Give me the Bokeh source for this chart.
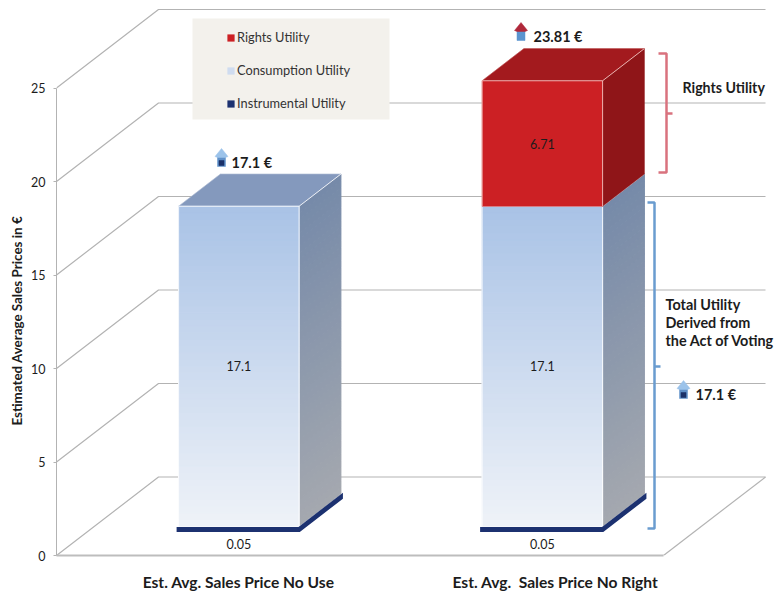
from bokeh.embed import file_html
from bokeh.resources import INLINE
from bokeh.plotting import figure
from bokeh.models import (BoxAnnotation, FixedTicker, Legend, LegendItem, Range1d, Title)
from bokeh.core.properties import value

# Chart values
categories = ["Est. Avg. Sales Price No Use", "Est. Avg.\u00a0 Sales Price No Right"]
category_tick_slots = [0.6, 1.644]
instrumental = [0.05, 0.05]
consumption = [17.1, 17.1]
rights = [0.0, 6.71]
price_labels = ["17.1 €", "23.81 €"]
y_ticks = [0, 5, 10, 15, 20, 25]
legend_names = ["Rights Utility", "Consumption Utility", "Instrumental Utility"]
y_title = "Estimated Average Sales Prices in €"

# Pixel scales of the plot area
W, H = 774, 594
LEFT, BOTTOM = 56, 39
PX_PER_SLOT, PX_PER_EURO = 303.5, 18.7
FRAME_BOTTOM = H - BOTTOM

# Oblique projection of the 3D box: depth 0 is the front edge, depth 1 the back wall
DEPTH_X = 102 / PX_PER_SLOT
DEPTH_Y = 78.5 / PX_PER_EURO
BAR_WIDTH = 120.5 / PX_PER_SLOT
BAR_NEAR, BAR_FAR = 0.30, 0.71
BAND_HALF = 2.5 / PX_PER_EURO     # half stroke of the thin navy band

FONT = value("Lato")
TEXT_DARK = "#1c1c1c"
GRID = "#b3b3b3"


def px(x):
    return (x - LEFT) / PX_PER_SLOT


def py(y):
    return (FRAME_BOTTOM - y) / PX_PER_EURO


def proj(x, y, d):
    return x + d * DEPTH_X, y + d * DEPTH_Y


def hex_rgb(c):
    return tuple(int(c[i:i + 2], 16) for i in (1, 3, 5))


def blend(a, b, t):
    ra, rb = hex_rgb(a), hex_rgb(b)
    return "#%02x%02x%02x" % tuple(round(u + (v - u) * t) for u, v in zip(ra, rb))


p = figure(width=W, height=H, output_backend="svg", toolbar_location=None,
           x_range=Range1d(0, (W - LEFT) / PX_PER_SLOT),
           y_range=Range1d(0, FRAME_BOTTOM / PX_PER_EURO),
           min_border_left=LEFT, min_border_bottom=BOTTOM,
           min_border_top=0, min_border_right=0,
           outline_line_color=None, background_fill_color="white")
p.xgrid.visible = False
p.ygrid.visible = False

# Axes
yax = p.yaxis[0]
yax.ticker = FixedTicker(ticks=y_ticks)
yax.bounds = (0, 25)
yax.axis_line_color = GRID
yax.major_tick_line_color = GRID
yax.minor_tick_line_color = None
yax.major_tick_out = 3
yax.major_tick_in = 0
yax.major_label_standoff = 8
yax.major_label_text_font = "Lato"
yax.major_label_text_font_size = "12.5px"
yax.major_label_text_color = TEXT_DARK

# The title sits along the 0-25 stretch of the axis rather than the whole frame
p.add_layout(Title(text=y_title, align="left", offset=130, standoff=8,
                   text_font="Lato", text_font_size="13.4px", text_font_style="bold",
                   text_color=TEXT_DARK), "left")

xax = p.xaxis[0]
xax.ticker = FixedTicker(ticks=category_tick_slots)
xax.major_label_overrides = dict(zip(category_tick_slots, categories))
xax.bounds = (0, 2)
xax.axis_line_color = "#bdbdbd"
xax.axis_line_width = 2
xax.major_tick_line_color = None
xax.minor_tick_line_color = None
xax.major_tick_out = 0
xax.major_tick_in = 0
xax.major_label_standoff = 17
xax.major_label_text_font = "Lato"
xax.major_label_text_font_size = "15.6px"
xax.major_label_text_font_style = "bold"
xax.major_label_text_color = TEXT_DARK

# Back wall and floor lines
for t in y_ticks:
    x0, y0 = proj(0, t, 0)
    x1, y1 = proj(0, t, 1)
    x2, y2 = proj(2, t, 1)
    p.line([x0, x1, x2], [y0, y1, y2], line_color=GRID, line_width=1.2)
xf = proj(2, 0, 0)
xb = proj(2, 0, 1)
p.line([xf[0], xb[0]], [xf[1], xb[1]], line_color=GRID, line_width=1.2)


def poly(points, fill, line=None, width=1.0):
    p.patch([q[0] for q in points], [q[1] for q in points], fill_color=fill,
            line_color=line if line else fill, line_width=width, line_join="miter")


def gradient_face(lo_l, lo_r, hi_l, hi_r, top_col, bot_col, steps=48):
    """Fill a four-cornered face with horizontal colour bands, top to bottom."""
    if top_col == bot_col:
        poly([lo_l, lo_r, hi_r, hi_l], top_col, width=0.5)
        return
    xs, ys, cols = [], [], []
    for i in range(steps):
        t0, t1 = i / steps, (i + 1) / steps
        a_l = (lo_l[0] + (hi_l[0] - lo_l[0]) * t0, lo_l[1] + (hi_l[1] - lo_l[1]) * t0)
        a_r = (lo_r[0] + (hi_r[0] - lo_r[0]) * t0, lo_r[1] + (hi_r[1] - lo_r[1]) * t0)
        b_l = (lo_l[0] + (hi_l[0] - lo_l[0]) * t1, lo_l[1] + (hi_l[1] - lo_l[1]) * t1)
        b_r = (lo_r[0] + (hi_r[0] - lo_r[0]) * t1, lo_r[1] + (hi_r[1] - lo_r[1]) * t1)
        xs.append([a_l[0], a_r[0], b_r[0], b_l[0]])
        ys.append([a_l[1], a_r[1], b_r[1], b_l[1]])
        cols.append(blend(bot_col, top_col, (t0 + t1) / 2))
    p.patches(xs, ys, fill_color=cols, line_color=cols, line_width=1)


def segment(cx, y0, y1, front_cols, side_cols, top_col, edge):
    xl, xr = cx - BAR_WIDTH / 2, cx + BAR_WIDTH / 2
    fl0, fr0 = proj(xl, y0, BAR_NEAR), proj(xr, y0, BAR_NEAR)
    fl1, fr1 = proj(xl, y1, BAR_NEAR), proj(xr, y1, BAR_NEAR)
    br0, br1 = proj(xr, y0, BAR_FAR), proj(xr, y1, BAR_FAR)
    bl1 = proj(xl, y1, BAR_FAR)
    gradient_face(fr0, br0, fr1, br1, *side_cols)
    poly([fl1, fr1, br1, bl1], top_col, width=0.5)
    gradient_face(fl0, fr0, fl1, fr1, *front_cols)
    p.line([fl0[0], fl1[0], fr1[0], fr0[0]], [fl0[1], fl1[1], fr1[1], fr0[1]],
           line_color=edge, line_width=1, line_alpha=0.85)
    p.line([fr1[0], br1[0]], [fr1[1], br1[1]], line_color=edge, line_width=1, line_alpha=0.85)
    p.line([fl1[0], bl1[0], br1[0]], [fl1[1], bl1[1], br1[1]], line_color=edge,
           line_width=0.5, line_alpha=0.4)


NAVY = "#1c3170"
CONS_FRONT = ("#a9c3e6", "#eff2f8")
CONS_SIDE = ("#768aa9", "#a4a8af")
CONS_TOP = "#8499bd"
RED_FRONT = ("#cc2024", "#cc2024")
RED_SIDE = ("#8f1518", "#8f1518")
RED_TOP = "#a31a1e"

for i in range(len(categories)):
    cx = i + 0.5
    # thin navy band: drawn from its value, widened by a stroke so it stays visible
    b0, b1 = BAND_HALF - instrumental[i] / 2, BAND_HALF + instrumental[i] / 2
    xl, xr = cx - BAR_WIDTH / 2, cx + BAR_WIDTH / 2
    start = 2 * BAND_HALF + instrumental[i]
    c_top = start + consumption[i]
    segment(cx, start, c_top, CONS_FRONT, CONS_SIDE, CONS_TOP, "#ffffff")
    if rights[i] > 0:
        segment(cx, c_top, c_top + rights[i], RED_FRONT, RED_SIDE, RED_TOP, "#f3c9c4")
    poly([proj(xl, b0, BAR_NEAR), proj(xr, b0, BAR_NEAR), proj(xr, b0, BAR_FAR),
          proj(xr, b1, BAR_FAR), proj(xr, b1, BAR_NEAR), proj(xl, b1, BAR_NEAR)],
         NAVY, width=2 * BAND_HALF * PX_PER_EURO * 0.8)

    # value labels on the segments
    fx, fy = proj(cx, 0, BAR_NEAR)
    text_kw = dict(text_font=FONT, text_font_size="12.5px", text_align="center",
                   text_baseline="middle", text_color=TEXT_DARK)
    p.text([fx], [fy - 12 / PX_PER_EURO], text=["%.2f" % instrumental[i]], **text_kw)
    p.text([fx], [proj(cx, start + consumption[i] / 2, BAR_NEAR)[1]],
           text=[str(consumption[i])], **text_kw)
    if rights[i] > 0:
        p.text([fx], [proj(cx, c_top + rights[i] / 2, BAR_NEAR)[1]],
               text=["%.2f" % rights[i]], **text_kw)


def arrow(xc, ytop, head_col, stem_col, core_col):
    """Small upward arrow icon, sized in pixels."""
    poly([(px(xc - 4), py(ytop + 18)), (px(xc + 4), py(ytop + 18)), (px(xc + 4), py(ytop + 6)),
          (px(xc - 4), py(ytop + 6))], stem_col, width=0.5)
    poly([(px(xc - 6.5), py(ytop + 8)), (px(xc), py(ytop)), (px(xc + 6.5), py(ytop + 8)),
          (px(xc + 4), py(ytop + 9)), (px(xc - 4), py(ytop + 9))], head_col, width=0.5)
    if core_col:
        poly([(px(xc - 2.5), py(ytop + 17)), (px(xc + 2.5), py(ytop + 17)), (px(xc + 2.5), py(ytop + 12)),
              (px(xc - 2.5), py(ytop + 12))], core_col, width=0.5)


def bold_label(x, y, s, size="14.5px"):
    p.text([px(x)], [py(y)], text=[s], text_font=FONT, text_font_size=size,
           text_font_style="bold", text_baseline="middle", text_color=TEXT_DARK)


arrow(221, 148, "#9cc3ea", "#5f90c8", "#1b3168")
bold_label(231, 162, price_labels[0])
arrow(520.5, 22, "#b0283a", "#5b94cf", None)
bold_label(533, 36, price_labels[1])
arrow(683, 380, "#9cc3ea", "#5f90c8", "#1b3168")
bold_label(695, 394, price_labels[0])

# Brackets at the right of the second bar
RED_BRACKET = "#d9727e"
BLUE_BRACKET = "#6a9ccf"
p.line([px(658), px(666), px(666), px(658)], [py(53), py(53), py(172), py(172)],
       line_color=RED_BRACKET, line_width=2.5)
p.line([px(666), px(672)], [py(113), py(113)], line_color=RED_BRACKET, line_width=2.5)
p.line([px(647), px(654), px(654), px(647)], [py(202), py(202), py(528), py(528)],
       line_color=BLUE_BRACKET, line_width=2.5)
p.line([px(654), px(660)], [py(366), py(366)], line_color=BLUE_BRACKET, line_width=2.5)

bold_label(682, 87, legend_names[0], "14.2px")
for y, s in zip([304, 322, 340], ["Total Utility", "Derived from", "the Act of Voting"]):
    bold_label(665, y, s, "14.4px")

# Legend panel
p.add_layout(BoxAnnotation(left=192, right=389, top=18, bottom=119,
                           left_units="canvas", right_units="canvas",
                           top_units="canvas", bottom_units="canvas",
                           fill_color="#f3f1ec", fill_alpha=1, line_color=None))
nan = float("nan")
swatches = [p.quad(left=[nan], right=[nan], top=[nan], bottom=[nan], fill_color=c, line_color=None)
            for c in ("#cc2024", "#cfdcf0", NAVY)]
legend = Legend(items=[LegendItem(label=n, renderers=[r]) for n, r in zip(legend_names, swatches)],
                location=(170, 444), background_fill_alpha=0, border_line_color=None,
                padding=0, margin=0, spacing=17, glyph_width=9, glyph_height=9,
                label_height=16, label_standoff=2, label_text_font="Lato",
                label_text_font_size="12.8px", label_text_color="#333333")
p.add_layout(legend)

open("out.html", "w").write(file_html(p, INLINE))
